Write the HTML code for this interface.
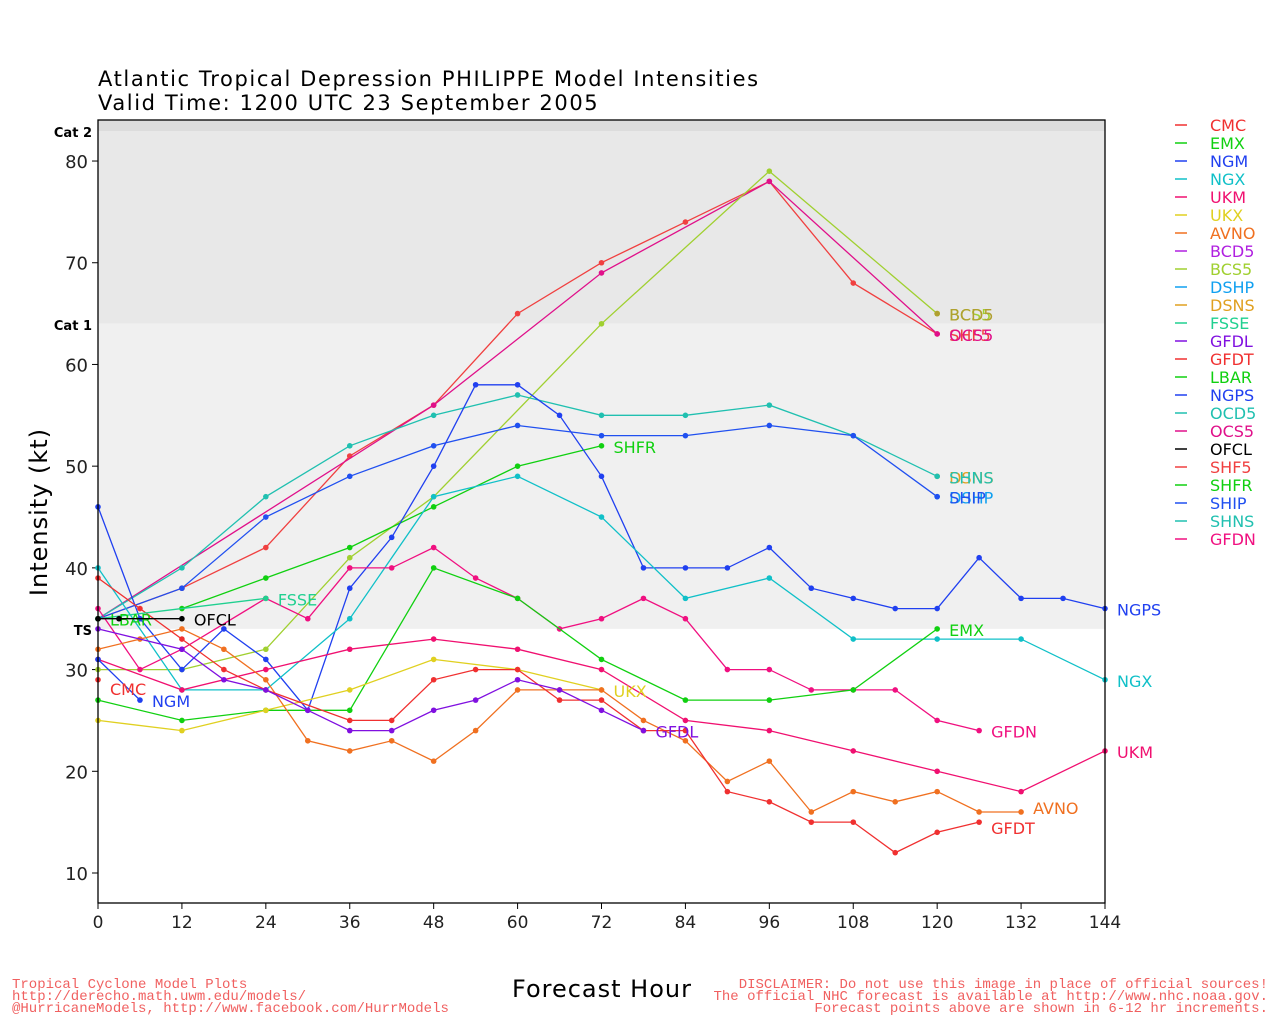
<!DOCTYPE html>
<html><head><meta charset="utf-8"><style>
body{margin:0;background:#fff;}
svg{display:block;font-family:"DejaVu Sans","Liberation Sans",sans-serif;}
</style></head><body>
<svg id="s" width="1280" height="1024" xmlns="http://www.w3.org/2000/svg"></svg>
<script>
const S=document.getElementById('s');
const X=h=>98+h*(1007/144), Y=v=>873-(v-10)*10.171;
let o='';
o+=`<rect x="98" y="120" width="1007" height="783" fill="#fff"/>`;
o+=`<rect x="98" y="120" width="1007" height="11" fill="#dcdcdc"/>`;
o+=`<rect x="98" y="131" width="1007" height="${Y(64)-131}" fill="#e8e8e8"/>`;
o+=`<rect x="98" y="${Y(64)}" width="1007" height="${Y(34)-Y(64)}" fill="#f0f0f0"/>`;
o+=`<text x="98" y="86" font-size="21" letter-spacing="1.6" fill="#000">Atlantic Tropical Depression PHILIPPE Model Intensities</text>`;
o+=`<text x="98" y="110" font-size="21" letter-spacing="1.6" fill="#000">Valid Time: 1200 UTC 23 September 2005</text>`;
for(let v=10;v<=80;v+=10){o+=`<line x1="92" x2="98" y1="${Y(v)}" y2="${Y(v)}" stroke="#000"/><text x="88" y="${Y(v)+7}" font-size="18" text-anchor="end" fill="#222">${v}</text>`;}
for(let h=0;h<=144;h+=12){o+=`<line x1="${X(h)}" x2="${X(h)}" y1="903" y2="909" stroke="#000"/><text x="${X(h)}" y="928" font-size="17" text-anchor="middle" fill="#222">${h}</text>`;}
o+=`<text x="92" y="137" font-size="13" font-weight="bold" text-anchor="end">Cat 2</text>`;
o+=`<text x="92" y="330" font-size="13" font-weight="bold" text-anchor="end">Cat 1</text>`;
o+=`<text x="92" y="635" font-size="13" font-weight="bold" text-anchor="end">TS</text>`;
o+=`<text transform="translate(47,512) rotate(-90)" font-size="24" letter-spacing="1" text-anchor="middle">Intensity (kt)</text>`;
o+=`<text x="602" y="997" font-size="24" letter-spacing="1" text-anchor="middle">Forecast Hour</text>`;
const L=(c,pts,lab,lh,lv)=>{
 let d=pts.map(p=>X(p[0]).toFixed(1)+','+Y(p[1]).toFixed(1)).join(' ');
 o+=`<polyline points="${d}" fill="none" stroke="${c}" stroke-width="1.3"/>`;
 pts.forEach(p=>o+=`<circle cx="${X(p[0])}" cy="${Y(p[1])}" r="2.8" fill="${c}"/>`);
 if(lab){let p=pts[pts.length-1];o+=`<text x="${X(lh!==undefined?lh:p[0])+12}" y="${Y(lv!==undefined?lv:p[1])+7}" font-size="16" fill="${c}">${lab}</text>`;}
};
const P=a=>{let r=[];for(let i=0;i<a.length;i+=2)r.push([a[i],a[i+1]]);return r;};
L('#f04040',P([0,35,12,38,24,42,36,51,48,56,60,65,72,70,84,74,96,78,108,68,120,63]),'SHF5');
L('#e0108a',P([0,35,48,56,72,69,96,78,120,63]),'OCS5');
L('#a0d030',P([0,30,12,30,24,32,36,41,48,47,72,64,96,79,120,65]),'BCS5');
L('#b0a030',P([120,65]),'BCD5');
L('#e0a020',P([120,49]),'DSNS');
L('#20c0b0',P([0,35,12,40,24,47,36,52,48,55,60,57,72,55,84,55,96,56,108,53,120,49]),'SHNS');
L('#10a0f0',P([120,47]),'DSHP');
L('#2050f0',P([0,35,12,38,24,45,36,49,48,52,60,54,72,53,84,53,96,54,108,53,120,47]),'SHIP');
L('#10d010',P([12,36,24,39,36,42,48,46,60,50,72,52]),'SHFR');
L('#2040f0',P([0,46,6,35,12,30,18,34,24,31,30,26,36,38,42,43,48,50,54,58,60,58,66,55,72,49,78,40,84,40,90,40,96,42,102,38,108,37,114,36,120,36,126,41,132,37,138,37,144,36]),'NGPS');
L('#10c0c8',P([0,40,12,28,24,28,36,35,48,47,60,49,72,45,84,37,96,39,108,33,120,33,132,33,144,29]),'NGX');
L('#f01080',P([0,36,6,30,12,32,24,37,30,35,36,40,42,40,48,42,54,39,60,37,66,34,72,35,78,37,84,35,90,30,96,30,102,28,108,28,114,28,120,25,126,24]),'GFDN');
L('#f01070',P([0,31,12,28,24,30,36,32,48,33,60,32,72,30,84,25,96,24,108,22,120,20,132,18,144,22]),'UKM');
L('#10d010',P([0,27,12,25,24,26,36,26,48,40,60,37,72,31,84,27,96,27,108,28,120,34]),'EMX');
L('#e0d020',P([0,25,12,24,24,26,36,28,48,31,60,30,72,28]),'UKX');
L('#f07020',P([0,32,6,33,12,34,18,32,24,29,30,23,36,22,42,23,48,21,54,24,60,28,66,28,72,28,78,25,84,23,90,19,96,21,102,16,108,18,114,17,120,18,126,16,132,16]),'AVNO',132,16.5);
L('#f03030',P([0,39,6,36,12,33,18,30,24,28,36,25,42,25,48,29,54,30,60,30,66,27,72,27,78,24,84,24,90,18,96,17,102,15,108,15,114,12,120,14,126,15]),'GFDT',126,14.5);
L('#8010e0',P([0,34,12,32,18,29,24,28,30,26,36,24,42,24,48,26,54,27,60,29,66,28,72,26,78,24]),'GFDL',78,24);
L('#20d090',P([0,35,24,37]),'FSSE');
L('#10d010',P([0,35]),'LBAR');
L('#2040f0',P([0,31,6,27]),'NGM');
L('#f03030',P([0,29]),'CMC',0,28.2);
L('#000',P([0,35,3,35,12,35]),'OFCL');
o+=`<rect x="98" y="120" width="1007" height="783" fill="none" stroke="#000" stroke-width="1.3"/>`;
const leg=[['CMC','#f03030'],['EMX','#10d010'],['NGM','#2040f0'],['NGX','#10c0c8'],['UKM','#f01070'],['UKX','#e0d020'],['AVNO','#f07020'],['BCD5','#b020e0'],['BCS5','#a0d030'],['DSHP','#10a0f0'],['DSNS','#e0a020'],['FSSE','#20d090'],['GFDL','#8010e0'],['GFDT','#f03030'],['LBAR','#10d010'],['NGPS','#2040f0'],['OCD5','#20c0b0'],['OCS5','#e0108a'],['OFCL','#000'],['SHF5','#f04040'],['SHFR','#10d010'],['SHIP','#2050f0'],['SHNS','#20c0b0'],['GFDN','#f01080']];
leg.forEach((l,i)=>{let y=125+i*18;o+=`<line x1="1175" x2="1187" y1="${y}" y2="${y}" stroke="${l[1]}" stroke-width="1.5"/><text x="1210" y="${y+6}" font-size="16" fill="${l[1]}">${l[0]}</text>`;});
o+=`<g font-family="Liberation Mono,monospace" font-size="14" fill="#f06060"><text x="12" y="988">Tropical Cyclone Model Plots</text><text x="12" y="1000">http://derecho.math.uwm.edu/models/</text><text x="12" y="1012">@HurricaneModels, http://www.facebook.com/HurrModels</text>
<text x="1268" y="988" text-anchor="end">DISCLAIMER: Do not use this image in place of official sources!</text><text x="1268" y="1000" text-anchor="end">The official NHC forecast is available at http://www.nhc.noaa.gov.</text><text x="1268" y="1012" text-anchor="end">Forecast points above are shown in 6-12 hr increments.</text></g>`;
S.innerHTML=o;
</script>
</body></html>
